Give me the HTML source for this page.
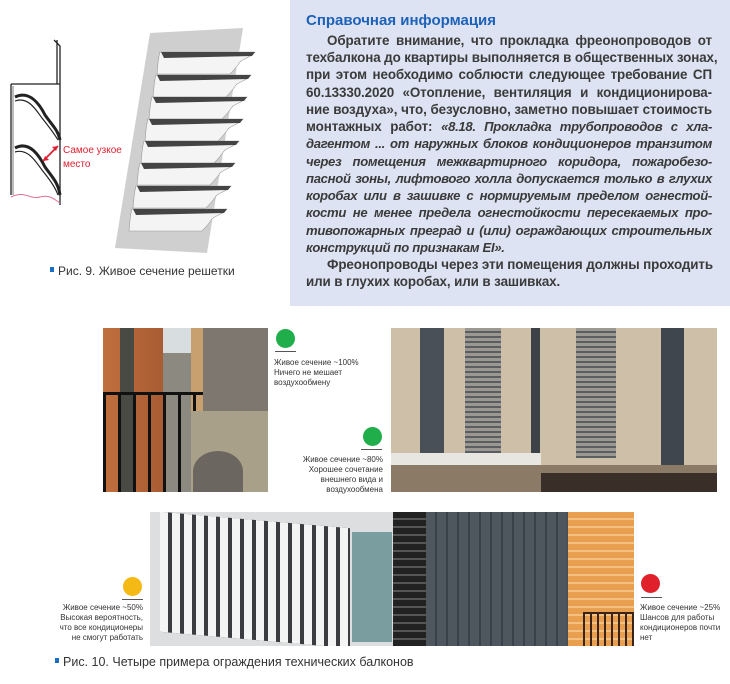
<!DOCTYPE html>
<html><head><meta charset="utf-8"><style>
*{margin:0;padding:0;box-sizing:border-box}
body{width:730px;height:684px;background:#fff;position:relative;overflow:hidden;font-family:"Liberation Sans",sans-serif}
.a{position:absolute}
#box{left:290px;top:0;width:440px;height:306px;background:#dde3f2}
.t{position:absolute;left:306px;width:406px;font-size:13.4px;font-weight:bold;color:#3a3a3a;white-space:nowrap;text-align:justify;text-align-last:justify;line-height:17px;letter-spacing:-0.1px}
.i{font-style:italic;font-size:13.1px;letter-spacing:-0.3px}
.s{position:absolute;font-size:8px;color:#333;line-height:10px;white-space:nowrap;font-family:"Liberation Sans Narrow","Liberation Sans",sans-serif}
.cap{position:absolute;font-size:12.5px;color:#333;white-space:nowrap}
.cap b{display:inline-block;width:4px;height:5px;background:#1a6fc4;margin-right:4px;vertical-align:3px}
.dot{position:absolute;width:19px;height:19px;border-radius:50%}
.ar{position:absolute;height:1px;background:#555}
</style></head><body>
<div id="box" class="a"></div>
<div class="a" style="left:306px;top:12px;font-size:15px;font-weight:bold;color:#1d62b8">Справочная информация</div>
<div class="t" style="top:32px;left:327px;width:385px">Обратите внимание, что прокладка фреонопроводов от</div>
<div class="t" style="top:49px">техбалкона до квартиры выполняется в общественных зонах,</div>
<div class="t" style="top:66px">при этом необходимо соблюсти следующее требование СП</div>
<div class="t" style="top:84px">60.13330.2020 «Отопление, вентиляция и кондиционирова-</div>
<div class="t" style="top:101px">ние воздуха», что, безусловно, заметно повышает стоимость</div>
<div class="t" style="top:118px">монтажных работ: <span class="i">«8.18. Прокладка трубопроводов с хла-</span></div>
<div class="t i" style="top:135px">дагентом ... от наружных блоков кондиционеров транзитом</div>
<div class="t i" style="top:153px">через помещения межквартирного коридора, пожаробезо-</div>
<div class="t i" style="top:170px">пасной зоны, лифтового холла допускается только в глухих</div>
<div class="t i" style="top:187px">коробах или в зашивке с нормируемым пределом огнестой-</div>
<div class="t i" style="top:204px">кости не менее предела огнестойкости пересекаемых про-</div>
<div class="t i" style="top:222px">тивопожарных преград и (или) ограждающих строительных</div>
<div class="t i" style="top:239px;text-align-last:left">конструкций по признакам EI».</div>
<div class="t" style="top:256px;left:327px;width:385px">Фреонопроводы через эти помещения должны проходить</div>
<div class="t" style="top:273px;text-align-last:left">или в глухих коробах, или в зашивках.</div>

<svg class="a" style="left:0;top:0" width="290" height="260">
<g stroke="#222" fill="none" stroke-width="1.3">
<path d="M54 40 L60 46 L60 205"/><path d="M57 40 L57 84"/>
<path d="M11 84 H60"/><path d="M11 84 V195"/><path d="M13 86 V195" stroke="#999"/>
<path d="M15 97 C30 90 40 105 45 115 C52 125 58 130 60 140" stroke-width="3"/>
<path d="M15 101 C28 96 36 110 42 118 C50 128 55 135 58 140" stroke-width="1.2"/>
<path d="M15 148 C30 140 40 157 45 167 C52 177 58 182 60 195" stroke-width="3"/>
<path d="M15 152 C28 148 36 162 42 170 C50 180 55 187 58 195" stroke-width="1.2"/>
</g>
<path d="M11 197 C25 190 30 200 40 197 S55 200 60 203" stroke="#e07090" fill="none"/>
<path d="M43 161 L58 146" stroke="#e02030" stroke-width="1.8"/>
<path d="M58 146 l-6 1 l4 4z M43 161 l6-1 l-4-4z" fill="#e02030"/>
<text x="63" y="153" font-size="10" fill="#e02030" font-family="Liberation Sans">Самое узкое</text>
<text x="63" y="167" font-size="10" fill="#e02030" font-family="Liberation Sans">место</text>
<polygon points="150,33 243,28 207,253 115,248" fill="#cfcfcf"/>
<g id="sl">
<path d="M160 52 L255 52 C250 58 244 58 240 62 C236 68 232 72 230 74 L157 74 C158 64 158 58 160 52Z" fill="#f4f4f4" stroke="#999" stroke-width="0.6"/>
<path d="M161 52 L255 52 L252 56 L164 58Z" fill="#444"/>
</g>
<use href="#sl" transform="translate(-4,23)"/><use href="#sl" transform="translate(-8,45)"/>
<use href="#sl" transform="translate(-12,67)"/><use href="#sl" transform="translate(-16,89)"/>
<use href="#sl" transform="translate(-20,111)"/><use href="#sl" transform="translate(-24,134)"/>
<use href="#sl" transform="translate(-28,157)"/>
</svg>
<div class="cap" style="left:50px;top:264px;font-size:12px"><b></b>Рис. 9. Живое сечение решетки</div>

<!-- photo1 -->
<div class="a" style="left:103px;top:328px;width:165px;height:164px;overflow:hidden;background:#b86a3c">
<div class="a" style="left:0;top:0;width:60px;height:164px;background:linear-gradient(90deg,#c0703e,#a95c33)"></div>
<div class="a" style="left:17px;top:0;width:14px;height:164px;background:#4a4a44"></div>
<div class="a" style="left:60px;top:0;width:28px;height:164px;background:#8c8a80"></div>
<div class="a" style="left:60px;top:0;width:28px;height:25px;background:#d8dde0"></div>
<div class="a" style="left:88px;top:0;width:12px;height:164px;background:#c8a070"></div>
<div class="a" style="left:100px;top:0;width:65px;height:164px;background:#7e7770"></div>
<div class="a" style="left:0;top:64px;width:100px;height:3px;background:#111"></div>
<div class="a" style="left:0;top:64px;width:100px;height:100px;background:repeating-linear-gradient(90deg,#111 0 3px,transparent 3px 15px)"></div>
<div class="a" style="left:88px;top:83px;width:77px;height:81px;background:#a9a08a"></div>
<div class="a" style="left:90px;top:123px;width:50px;height:41px;border-radius:50% 50% 0 0;background:#6c6660"></div>
</div>
<!-- photo2 -->
<div class="a" style="left:391px;top:328px;width:326px;height:164px;overflow:hidden;background:#cdbfa8">
<div class="a" style="left:29px;top:0;width:24px;height:130px;background:#4a5058"></div>
<div class="a" style="left:74px;top:0;width:36px;height:130px;background:repeating-linear-gradient(0deg,#5a5e62 0 2px,#9a9890 2px 5px)"></div>
<div class="a" style="left:140px;top:0;width:9px;height:140px;background:#3c4248"></div>
<div class="a" style="left:185px;top:0;width:40px;height:130px;background:repeating-linear-gradient(0deg,#5a5e62 0 2px,#9a9890 2px 5px)"></div>
<div class="a" style="left:270px;top:0;width:23px;height:150px;background:#3f464e"></div>
<div class="a" style="left:0;top:125px;width:150px;height:12px;background:#e8e6e0"></div>
<div class="a" style="left:0;top:137px;width:326px;height:27px;background:#8a7a66"></div>
<div class="a" style="left:150px;top:145px;width:176px;height:19px;background:#3a2e28"></div>
</div>
<div class="dot" style="left:276px;top:329px;background:#1fae4a"></div>
<div class="ar" style="left:275px;top:351px;width:21px"></div>
<div class="s" style="left:274px;top:358px">Живое сечение ~100%<br>Ничего не мешает<br>воздухообмену</div>
<div class="dot" style="left:363px;top:427px;background:#1fae4a"></div>
<div class="ar" style="left:361px;top:449px;width:21px"></div>
<div class="s" style="right:347px;top:455px;text-align:right">Живое сечение ~80%<br>Хорошее сочетание<br>внешнего вида и<br>воздухообмена</div>

<!-- photo3 -->
<div class="a" style="left:150px;top:512px;width:243px;height:134px;overflow:hidden;background:#dcdedf">
<div class="a" style="left:10px;top:8px;width:190px;height:120px;background:#3a3c40;transform:skewY(5deg)"></div>
<div class="a" style="left:10px;top:8px;width:190px;height:120px;background:repeating-linear-gradient(90deg,#f4f4f4 0 8px,transparent 8px 12px);transform:skewY(5deg)"></div>
<div class="a" style="left:202px;top:20px;width:40px;height:110px;background:#7a9ea0"></div>
</div>
<!-- photo4 -->
<div class="a" style="left:393px;top:512px;width:241px;height:134px;overflow:hidden;background:#4a5058">
<div class="a" style="left:0;top:0;width:33px;height:134px;background:repeating-linear-gradient(0deg,#222 0 6px,#555 6px 8px)"></div>
<div class="a" style="left:33px;top:0;width:140px;height:134px;background:repeating-linear-gradient(90deg,#4e565e 0 9px,#39414a 9px 11px)"></div>
<div class="a" style="left:175px;top:0;width:66px;height:134px;background:repeating-linear-gradient(0deg,#e8a050 0 6px,#f4c080 6px 8px)"></div>
<div class="a" style="left:190px;top:100px;width:51px;height:34px;background:repeating-linear-gradient(90deg,#3a2418 0 2px,transparent 2px 7px);border-top:2px solid #3a2418"></div>
</div>
<div class="dot" style="left:123px;top:577px;background:#f5b915"></div>
<div class="ar" style="left:122px;top:599px;width:21px"></div>
<div class="s" style="right:587px;top:603px;text-align:right">Живое сечение ~50%<br>Высокая вероятность,<br>что все кондиционеры<br>не смогут работать</div>
<div class="dot" style="left:641px;top:574px;background:#e0202a"></div>
<div class="ar" style="left:641px;top:597px;width:21px"></div>
<div class="s" style="left:640px;top:603px">Живое сечение ~25%<br>Шансов для работы<br>кондиционеров почти<br>нет</div>
<div class="cap" style="left:55px;top:655px"><b></b>Рис. 10. Четыре примера ограждения технических балконов</div>
</body></html>
